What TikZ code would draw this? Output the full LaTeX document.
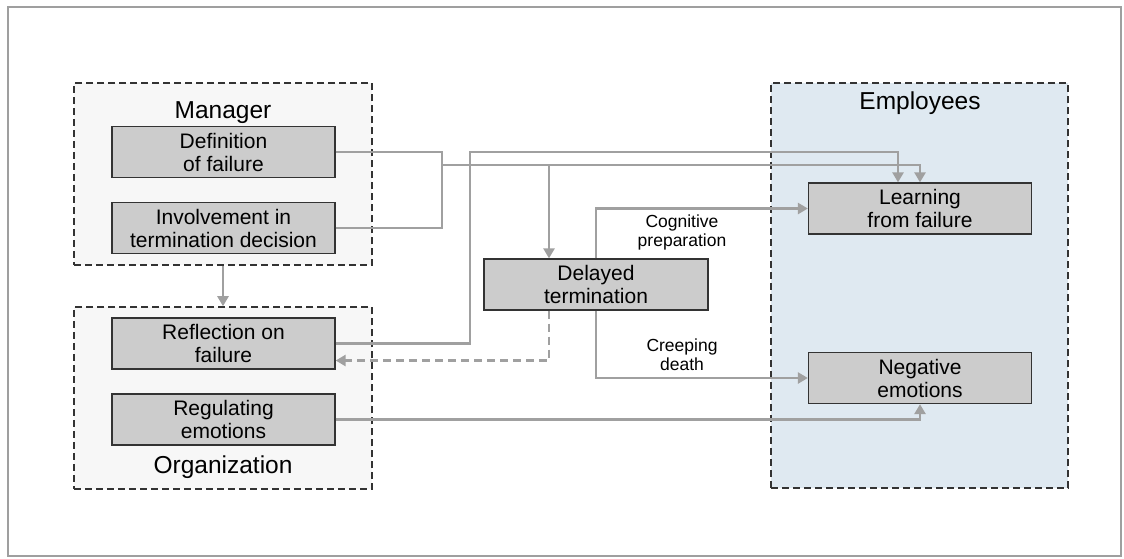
\documentclass[tikz,border=0pt]{standalone}
\usepackage{fontspec}
\setmainfont{Liberation Sans}
\usetikzlibrary{arrows.meta}

\definecolor{boxgray}{HTML}{CCCCCC}
\definecolor{linegray}{HTML}{A0A0A0}
\definecolor{groupfill}{HTML}{F7F7F7}
\definecolor{empfill}{HTML}{DFE9F1}
\definecolor{edgedark}{HTML}{333333}

\tikzstyle{group}=[draw=edgedark,dash pattern=on 7pt off 4pt,line width=1.6pt,fill=groupfill,minimum width=298pt,inner sep=0pt]
\tikzstyle{factor}=[draw=edgedark,fill=boxgray,line width=1.3pt,minimum width=223pt,minimum height=51pt,inner sep=0pt,align=center,font=\fontsize{21}{23}\selectfont]
\tikzstyle{title}=[font=\fontsize{24.5}{27}\selectfont]
\tikzstyle{link}=[draw=linegray,line width=2.6pt]
\tikzstyle{link arrow}=[link,-{Triangle[length=10pt,width=11pt]}]
\tikzstyle{path label}=[align=center,font=\fontsize{17.5}{19}\selectfont]

\begin{document}
\begin{tikzpicture}[x=1pt,y=-1pt]
			\useasboundingbox (0,0) rectangle (1124,558);
			\draw[gray!75,line width=1.8pt] (8,7) rectangle (1121,556);
			% Groups
			\node[group,minimum height=182pt] (mgr) at (223,174) {};
			\node[group,minimum height=182pt] (org) at (223,398) {};
			\node[group,fill=empfill,minimum width=297pt,minimum height=405pt] (emp) at (919.5,285.5) {};
			\node[title] (mgrtitle) at (223,113) {Manager};
			\node[title] (orgtitle) at (223,467) {Organization};
			\node[title] (emptitle) at (920,103) {Employees};
			% Factors
			\node[factor] (def) at (223.5,152) {Definition\\of failure};
			\node[factor] (inv) at (223.5,228) {Involvement in\\termination decision};
			\node[factor] (refl) at (223.5,343.5) {Reflection on\\failure};
			\node[factor] (reg) at (223.5,419.5) {Regulating\\emotions};
			\node[factor,minimum width=224pt] (delay) at (596,284.5) {Delayed\\termination};
			\node[factor] (learn) at (920,208.5) {Learning\\from failure};
			\node[factor] (neg) at (920,378) {Negative\\emotions};
			\coordinate (mrg) at (442,165);
			% Connect factors
			\path[link arrow] (mgr) to (org);
			\path[link] (def.east) -| (mrg);
			\path[link] (inv.east) -| (mrg);
			\path[link arrow] (mrg) -| (learn.north);
			\path[link arrow] ([xshift=-47pt]delay.north |- mrg) to ([xshift=-47pt]delay.north);
			\path[link arrow] (refl.east) -| (470,152) -| ([xshift=-22pt]learn.north);
			\path[link arrow] (delay.north) |- (learn.west);
			\path[link arrow] (delay.south) |- (neg.west);
			\path[link arrow,dash pattern=on 8pt off 5pt] ([xshift=-47pt]delay.south) |- ([yshift=-17pt]refl.east);
			\path[link arrow] (reg.east) -| (neg.south);
			\node[path label] (cogn) at (682,232) {Cognitive\\preparation};
			\node[path label] (creep) at (682,355) {Creeping\\death};
		\end{tikzpicture}
\end{document}
